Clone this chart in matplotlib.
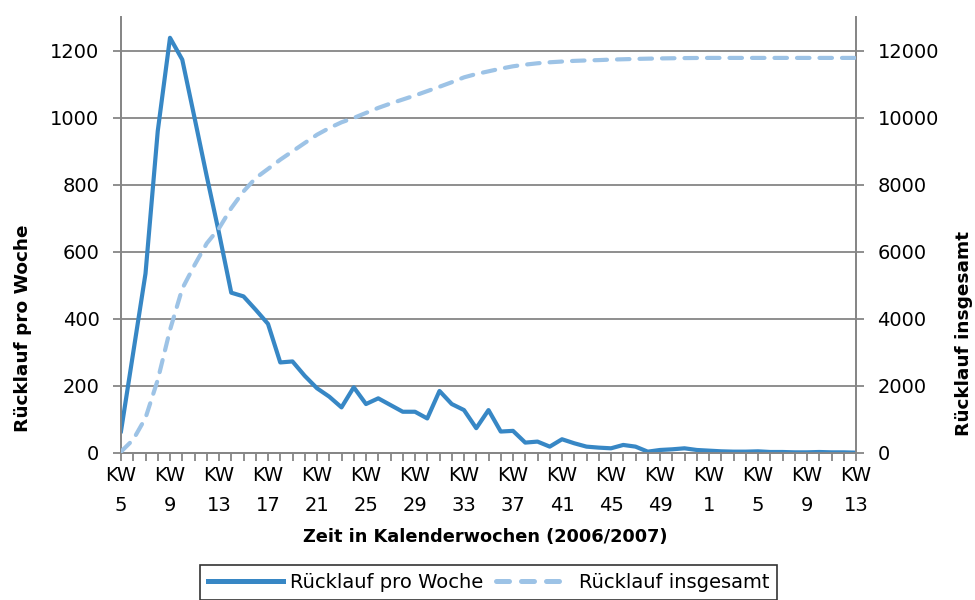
import numpy as np
import matplotlib
matplotlib.use('Agg')
from matplotlib import pyplot as plt

# Kalenderwochen 2006 (KW5-52) und 2007 (KW1-13)
weeks = list(range(5, 53)) + list(range(1, 14))

weekly = [65, 300, 535, 960, 1238, 1173, 1000, 825, 656, 478,
          467, 427, 385, 270, 273, 230, 193, 168, 136, 196,
          146, 163, 143, 123, 123, 103, 185, 146, 128, 74,
          128, 64, 66, 31, 34, 19, 41, 29, 19, 16,
          14, 24, 19, 4, 9, 11, 14, 9, 7, 5,
          4, 4, 5, 3, 3, 2, 2, 3, 2, 2, 1]

total = [40, 400, 1045, 2180, 3670, 4900, 5600, 6250, 6700, 7300,
         7800, 8200, 8470, 8746, 8995, 9244, 9490, 9690, 9860, 9990,
         10140, 10290, 10420, 10540, 10660, 10790, 10920, 11055, 11200, 11300,
         11380, 11460, 11530, 11580, 11620, 11650, 11672, 11692, 11705, 11715,
         11730, 11740, 11750, 11758, 11765, 11770, 11775, 11778, 11780, 11780,
         11780, 11780, 11780, 11780, 11780, 11780, 11780, 11780, 11780, 11780, 11780]

left_ticks = [0, 200, 400, 600, 800, 1000, 1200]
right_ticks = [0, 2000, 4000, 6000, 8000, 10000, 12000]

c_week = '#3787c5'
c_total = '#9dc3e6'
c_grid = '#868686'
font = 'DejaVu Sans'

x = np.arange(len(weeks))

fig = plt.figure(figsize=(9.75, 6), dpi=100)
ax = fig.add_axes([121 / 975, 1 - 453 / 600, (856 - 121) / 975, (453 - 17) / 600])
ax2 = ax.twinx()

ax.plot(x, weekly, color=c_week, lw=3.0, solid_joinstyle='round', zorder=3)
ax2.plot(x, total, color=c_total, lw=3.0, dashes=(3.0, 2.4), dash_capstyle='round', zorder=3)

ax.set_xlim(0, len(weeks) - 1)
ax.set_ylim(0, 1300)
ax2.set_ylim(0, 13000)

ax.set_yticks(left_ticks)
ax2.set_yticks(right_ticks)
ax.yaxis.grid(True, color=c_grid, lw=1.3)
ax.set_axisbelow(True)

major = x[::4]
ax.set_xticks(major)
ax.set_xticklabels(['KW\n' + str(weeks[i]) for i in major], linespacing=1.75)
ax.set_xticks(x, minor=True)

for a in (ax, ax2):
    for s in a.spines.values():
        s.set_color(c_grid)
        s.set_linewidth(1.3)
    a.spines['top'].set_visible(False)
    a.tick_params(which='both', color=c_grid, width=1.3, length=5.5)
    a.tick_params(axis='y', labelsize=14, pad=10)
    for lab in a.get_yticklabels():
        lab.set_family(font)
ax.tick_params(axis='x', which='both', labelsize=14, pad=4)
for lab in ax.get_xticklabels():
    lab.set_family(font)

ax.set_ylabel('Rücklauf pro Woche', fontsize=13.3, fontweight='bold', family=font)
ax.yaxis.set_label_coords((32 - 121) / 735, 0.287)
ax2.set_ylabel('Rücklauf insgesamt', fontsize=13.3, fontweight='bold', family=font)
ax2.yaxis.set_label_coords((955 - 121) / 735, 0.275)

fig.text(485.5 / 975, 1 - 537 / 600, 'Zeit in Kalenderwochen (2006/2007)', ha='center', va='center',
         fontsize=12.8, fontweight='bold', family=font)

h1, = ax.plot([], [], color=c_week, lw=3.6)
h2, = ax.plot([], [], color=c_total, lw=3.6, dashes=(2.6, 2.4), dash_capstyle='round')
leg = fig.legend([h1, h2], ['Rücklauf pro Woche', 'Rücklauf insgesamt'], loc='upper center',
                 bbox_to_anchor=(488.5 / 975, 1 - 565 / 600), ncol=2, fancybox=False,
                 prop={'family': font, 'size': 14}, handlelength=3.85, handletextpad=0.4,
                 columnspacing=0.65, borderpad=0.4, borderaxespad=0)
leg.get_frame().set_edgecolor('black')
leg.get_frame().set_linewidth(1.2)

fig.savefig('out.png', dpi=100)
